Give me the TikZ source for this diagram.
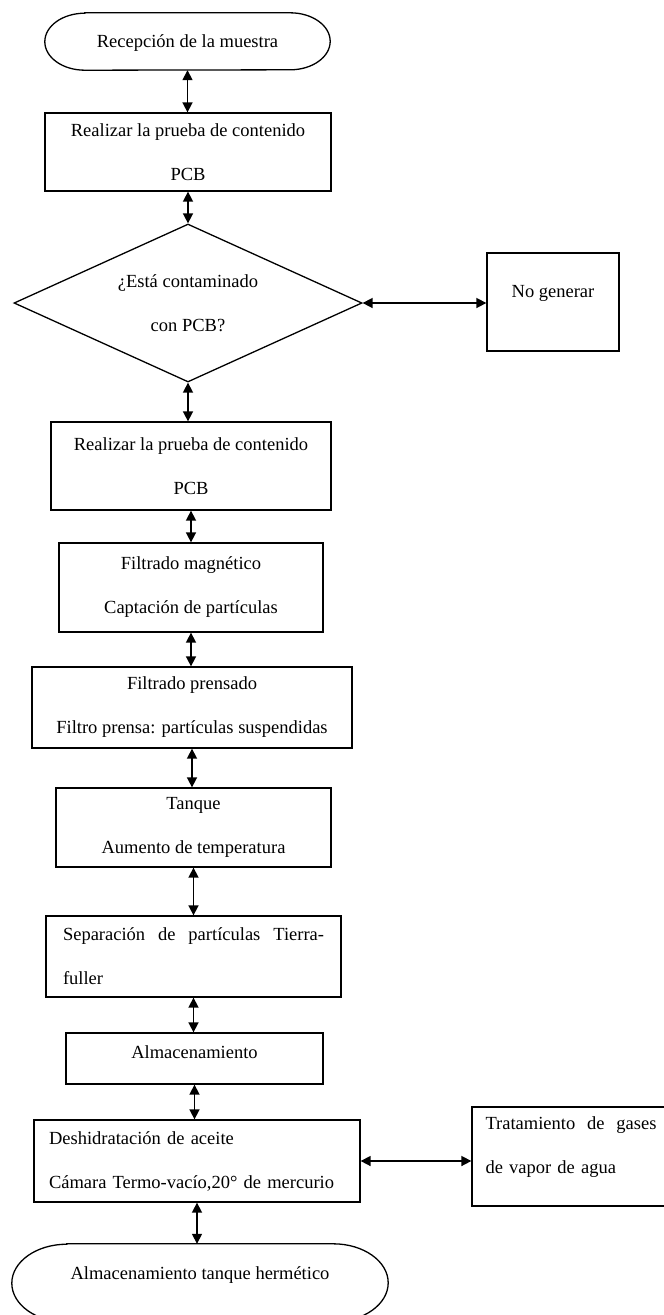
\documentclass[tikz,border=0pt]{standalone}
\usepackage{fontspec}
\setmainfont{Liberation Serif}
\usetikzlibrary{shapes.geometric,arrows.meta}
\begin{document}
\begin{tikzpicture}[x=1pt,y=-1pt,
  every node/.style={font=\fontsize{18.5}{44}\selectfont, inner sep=0pt},
  stepbox/.style={draw, line width=1.3pt, rectangle, align=center},
  termnode/.style={rectangle, align=center},
  decision/.style={draw, line width=1.3pt, diamond, aspect=2.2, align=center},
  conn/.style={line width=1.6pt, {Triangle[width=10pt,length=10pt]}-{Triangle[width=10pt,length=10pt]}},
  outline/.style={line width=1.3pt}
]
\clip (0,0) rectangle (664,1315);
\fill[white] (0,0) rectangle (664,1315);

% top terminal
\node[termnode, minimum width=285pt, minimum height=57pt] (t1) at (187.5,41.5) {\raisebox{-1pt}[0.7em][0.2em]{Recepción de la muestra}};
\draw[outline] ([xshift=40pt]t1.north west) -- ([xshift=-40pt]t1.north east)
  arc[start angle=90, end angle=-90, x radius=40pt, y radius=28.5pt]
  -- ([xshift=40pt]t1.south west)
  arc[start angle=270, end angle=90, x radius=40pt, y radius=28.5pt] -- cycle;

\node[stepbox, minimum width=286pt, minimum height=78pt] (b1) at (188,152) {Realizar la prueba de contenido\\PCB};

\node[decision, minimum width=348pt, minimum height=158pt] (d) at (188,303) {¿Está contaminado\\con PCB?};

\node[stepbox, minimum width=132pt, minimum height=98pt] (ng) at (553,302) {\raisebox{9pt}[0.7em][0.2em]{No generar}};

\node[stepbox, minimum width=280pt, minimum height=88pt] (b2) at (191,466) {Realizar la prueba de contenido\\PCB};

\node[stepbox, minimum width=264pt, minimum height=89pt] (b3) at (191,587.5) {Filtrado magnético\\Captación de partículas};

\node[stepbox, minimum width=320pt, minimum height=81pt] (b4) at (192,707.5) {Filtrado prensado\\Filtro prensa: partículas suspendidas};

\node[stepbox, minimum width=275pt, minimum height=79pt] (b5) at (193.5,827.5) {Tanque\\Aumento de temperatura};

\node[stepbox, minimum width=295pt, minimum height=81pt, text width=261pt, align=left] (b6) at (193.5,956.5) {Separación\hfill de\hfill partículas\hfill Tierra-\\fuller};

\node[stepbox, minimum width=257pt, minimum height=51pt] (b7) at (194.5,1058.5) {\raisebox{5pt}[0.7em][0.2em]{Almacenamiento}};

\node[stepbox, minimum width=326pt, minimum height=82pt, text width=296pt, align=left] (b8) at (197,1161) {Deshidratación de aceite\\Cámara Termo-vacío,20° de mercurio};

\node[stepbox, minimum width=198pt, minimum height=99pt, text width=171pt, align=left] (tr) at (571,1156.5) {\raisebox{10pt}[0.7em][0.2em]{\makebox[171pt][s]{Tratamiento\hfill de\hfill gases}}\\\raisebox{10pt}[0.7em][0.2em]{de vapor de agua}};

% bottom terminal
\node[termnode, minimum width=376pt, minimum height=78pt] (t2) at (200,1283) {\raisebox{8pt}[0.7em][0.2em]{Almacenamiento tanque hermético}};
\draw[outline] ([xshift=55pt]t2.north west) -- ([xshift=-55pt]t2.north east)
  arc[start angle=90, end angle=-90, x radius=55pt, y radius=39pt]
  -- ([xshift=55pt]t2.south west)
  arc[start angle=270, end angle=90, x radius=55pt, y radius=39pt] -- cycle;

% connectors
\draw[conn] (t1.south) -- (t1.south |- b1.north);
\draw[conn] (b1.south) -- (b1.south |- d.north);
\draw[conn] (d.east) -- (ng.west |- d.east);
\draw[conn] (d.south) -- (d.south |- b2.north);
\draw[conn] (b2.south) -- (b2.south |- b3.north);
\draw[conn] (b3.south) -- (b3.south |- b4.north);
\draw[conn] (b4.south) -- (b4.south |- b5.north);
\draw[conn] (b5.south) -- (b5.south |- b6.north);
\draw[conn] (b6.south) -- (b6.south |- b7.north);
\draw[conn] (b7.south) -- (b7.south |- b8.north);
\draw[conn] (b8.east) -- (tr.west |- b8.east);
\draw[conn] (b8.south) -- (b8.south |- t2.north);
\end{tikzpicture}
\end{document}
